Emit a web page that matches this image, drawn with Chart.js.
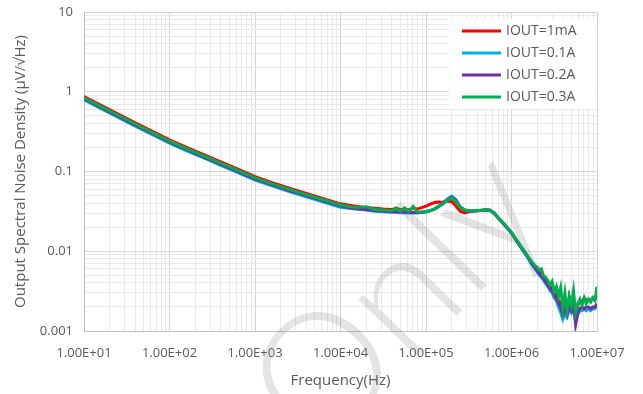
<!DOCTYPE html>
<html>
<head>
<meta charset="utf-8">
<script src="https://cdn.jsdelivr.net/npm/chart.js@4.4.1/dist/chart.umd.min.js"></script>
<style>
  html, body { margin: 0; padding: 0; background: #fff; }
  #wrap { width: 643px; height: 394px; }
</style>
</head>
<body>
<div id="wrap"><canvas id="noiseChart" width="643" height="394"></canvas></div>
<script>
// frequency points (Hz), shared by all four curves
const freqs = [
    10, 15.85, 25.12, 39.81, 63.1, 100, 158.5, 251.2, 398.1, 631, 1000, 1585, 2512, 3981, 6310, 10000,
    12589, 15849, 19953, 25119, 31623, 39811, 44668, 50119, 56234, 63096, 70795, 79433, 89125, 100000,
    112202, 125893, 141254, 158489, 177828, 199526, 223872, 251189, 281838, 316228, 398107, 501187,
    562341, 630957, 707946, 794328, 1000000, 1258925,
    1584893, 1678804, 1778279, 1883649, 1995262, 2113489, 2238721, 2371374, 2511886, 2660725, 2818383,
    2985383, 3162278, 3349654, 3548134, 3758374, 3981072, 4216965, 4466836, 4731513, 5011872, 5308844,
    5623413, 5956621, 6309573, 6683439, 7079458, 7498942, 7943282, 8413951, 8912509, 9440609, 10000000
];

const iout1mA = [
    0.87, 0.675, 0.525, 0.408, 0.319, 0.249, 0.201, 0.163, 0.132, 0.107, 0.086, 0.0725, 0.0617, 0.0531, 0.0457, 0.0393,
    0.0378, 0.0364, 0.0352, 0.0345, 0.0338, 0.0333, 0.0348, 0.0332, 0.0338, 0.0330, 0.0345, 0.0338, 0.0352, 0.0368,
    0.0390, 0.0408, 0.0415, 0.0412, 0.0425, 0.0420, 0.0370, 0.0318, 0.0303, 0.0312, 0.0322, 0.0330,
    0.0328, 0.0296, 0.0258, 0.0225, 0.0170, 0.0117,
    0.0083, 0.0075, 0.0068, 0.0064, 0.0059, 0.0055, 0.0051, 0.0047, 0.0044, 0.0040, 0.0036,
    0.0034, 0.0030, 0.0029, 0.0024, 0.0023, 0.0018, 0.0022, 0.0017, 0.0026, 0.0019, 0.0024,
    0.0015, 0.0021, 0.0024, 0.0023, 0.0026, 0.0024, 0.0025, 0.0024, 0.0026, 0.0025, 0.0026
];

const iout01A = [
    0.79, 0.613, 0.477, 0.370, 0.290, 0.226, 0.182, 0.148, 0.119, 0.097, 0.078, 0.066, 0.056, 0.0482, 0.0415, 0.0357,
    0.0345, 0.0335, 0.0328, 0.0318, 0.0312, 0.0308, 0.0306, 0.0304, 0.0303, 0.0302, 0.0302, 0.0302, 0.0305, 0.0310,
    0.0322, 0.0340, 0.0368, 0.0405, 0.0452, 0.0490, 0.0445, 0.0360, 0.0330, 0.0320, 0.0322, 0.0328,
    0.0325, 0.0296, 0.0258, 0.0225, 0.0168, 0.0115,
    0.0080, 0.0072, 0.0065, 0.0060, 0.0055, 0.0050, 0.0047, 0.0043, 0.0039, 0.0036, 0.0032,
    0.0030, 0.0026, 0.0024, 0.0020, 0.0017, 0.0014, 0.0016, 0.0015, 0.0019, 0.0017, 0.0020,
    0.0013, 0.0016, 0.0018, 0.0018, 0.0019, 0.0018, 0.0019, 0.0018, 0.0019, 0.0019, 0.0021
];

const iout02A = [
    0.815, 0.632, 0.492, 0.382, 0.299, 0.233, 0.188, 0.152, 0.123, 0.100, 0.0805, 0.068, 0.0578, 0.0498, 0.0429, 0.0369,
    0.0352, 0.0342, 0.0334, 0.0324, 0.0318, 0.0313, 0.0312, 0.0310, 0.0309, 0.0307, 0.0307, 0.0307, 0.0309, 0.0313,
    0.0323, 0.0338, 0.0365, 0.0400, 0.0442, 0.0475, 0.0432, 0.0358, 0.0330, 0.0320, 0.0323, 0.0328,
    0.0326, 0.0297, 0.0260, 0.0227, 0.0170, 0.0117,
    0.0082, 0.0074, 0.0067, 0.0062, 0.0057, 0.0052, 0.0049, 0.0045, 0.0041, 0.0038, 0.0034,
    0.0032, 0.0028, 0.0026, 0.0022, 0.0020, 0.0016, 0.0019, 0.0016, 0.0021, 0.0018, 0.0022,
    0.0012, 0.0017, 0.0019, 0.0020, 0.0019, 0.0020, 0.0020, 0.0019, 0.0020, 0.0020, 0.0022
];

const iout03A = [
    0.84, 0.652, 0.507, 0.394, 0.308, 0.240, 0.194, 0.157, 0.127, 0.103, 0.083, 0.070, 0.0596, 0.0513, 0.0442, 0.038,
    0.0365, 0.0353, 0.0362, 0.0333, 0.0328, 0.0322, 0.0345, 0.0318, 0.0350, 0.0312, 0.0365, 0.0310, 0.0312, 0.0316,
    0.0325, 0.0340, 0.0365, 0.0390, 0.0435, 0.0465, 0.0420, 0.0355, 0.0330, 0.0322, 0.0325, 0.0330,
    0.0328, 0.0300, 0.0262, 0.0230, 0.0174, 0.0120,
    0.0084, 0.0077, 0.0071, 0.0066, 0.0063, 0.0058, 0.0060, 0.0049, 0.0047, 0.0043, 0.0038,
    0.0042, 0.0031, 0.0036, 0.0027, 0.0035, 0.0019, 0.0030, 0.0018, 0.0027, 0.0021, 0.0032,
    0.0017, 0.0022, 0.0025, 0.0021, 0.0026, 0.0022, 0.0025, 0.0023, 0.0026, 0.0024, 0.0036
];

const seriesNames = ['IOUT=1mA', 'IOUT=0.1A', 'IOUT=0.2A', 'IOUT=0.3A'];
const seriesColors = ['#ff0000', '#00b0f0', '#7030a0', '#00b050'];
const xTickLabels = ['1.00E+01', '1.00E+02', '1.00E+03', '1.00E+04', '1.00E+05', '1.00E+06', '1.00E+07'];
const yTickLabels = ['0.001', '0.01', '0.1', '1', '10'];

const textColor = '#595959';
const majorGrid = '#d4d4d4';
const minorGrid = '#e9e9e9';

function isMajor(v) {
    const l = Math.log10(v);
    return Math.abs(l - Math.round(l)) < 1e-6;
}

// 1..9 x 10^e for every decade between min and max
function decadeTicks(minExp, maxExp) {
    const ticks = [];
    for (let e = minExp; e < maxExp; e++) {
        for (let m = 1; m <= 9; m++) {
            ticks.push({ value: Number((m * Math.pow(10, e)).toPrecision(3)) });
        }
    }
    ticks.push({ value: Math.pow(10, maxExp) });
    return ticks;
}

function toPoints(values) {
    return values.map((v, i) => ({ x: freqs[i], y: v }));
}

const legendBox = {
    id: 'legendBox',
    afterDraw(chart) {
        const ctx = chart.ctx;
        ctx.save();
        ctx.fillStyle = '#ffffff';
        ctx.fillRect(449, 19, 147, 90);
        ctx.font = '14px "Open Sans", sans-serif';
        ctx.textBaseline = 'middle';
        seriesNames.forEach((name, i) => {
            const y = 31 + i * 22;
            ctx.strokeStyle = seriesColors[i];
            ctx.lineWidth = 3;
            ctx.beginPath();
            ctx.moveTo(462, y);
            ctx.lineTo(501, y);
            ctx.stroke();
            ctx.fillStyle = textColor;
            ctx.fillText(name, 506, y);
        });
        ctx.restore();
    }
};

const watermark = {
    id: 'watermark',
    beforeDatasetsDraw(chart) {
        const ctx = chart.ctx;
        ctx.save();
        ctx.translate(398, 300);
        ctx.rotate(-0.8);
        ctx.font = '300 165px Lato, sans-serif';
        ctx.fillStyle = 'rgba(120,120,120,0.2)';
        ctx.textAlign = 'center';
        ctx.textBaseline = 'middle';
        ctx.fillText('Only', 0, 0);
        ctx.restore();
    }
};

const datasets = [iout1mA, iout01A, iout02A, iout03A].map((vals, i) => ({
    label: seriesNames[i],
    data: toPoints(vals),
    borderColor: seriesColors[i],
    backgroundColor: seriesColors[i],
    borderWidth: 3,
    pointRadius: 0,
    tension: 0,
    order: 3 - i
}));

new Chart(document.getElementById('noiseChart'), {
    type: 'line',
    data: { datasets: datasets },
    options: {
        responsive: false,
        animation: false,
        devicePixelRatio: 1,
        layout: { padding: { top: 12, right: 46, left: 0, bottom: 0 } },
        plugins: {
            legend: { display: false },
            tooltip: { enabled: false }
        },
        scales: {
            x: {
                type: 'logarithmic',
                min: 10,
                max: 1e7,
                afterBuildTicks: scale => { scale.ticks = decadeTicks(1, 7); },
                afterFit: scale => { scale.height = 63; },
                ticks: {
                    autoSkip: false,
                    maxRotation: 0,
                    padding: 14,
                    color: textColor,
                    font: { family: '"Open Sans", sans-serif', size: 13 },
                    callback: value => isMajor(value) ? xTickLabels[Math.round(Math.log10(value)) - 1] : ''
                },
                grid: {
                    drawTicks: false,
                    lineWidth: 1,
                    color: c => (c.tick && isMajor(c.tick.value)) ? majorGrid : minorGrid
                },
                border: { color: '#bfbfbf', width: 1 },
                title: {
                    display: true,
                    text: 'Frequency(Hz)',
                    color: textColor,
                    font: { family: '"Open Sans", sans-serif', size: 15 },
                    padding: { top: 0, bottom: 4 }
                }
            },
            y: {
                type: 'logarithmic',
                min: 0.001,
                max: 10,
                afterBuildTicks: scale => { scale.ticks = decadeTicks(-3, 1); },
                afterFit: scale => {
                    scale.width = 84;
                    scale.paddingTop = 0;
                    scale.paddingBottom = 0;
                },
                ticks: {
                    autoSkip: false,
                    padding: 11,
                    color: textColor,
                    font: { family: '"Open Sans", sans-serif', size: 13 },
                    callback: value => isMajor(value) ? yTickLabels[Math.round(Math.log10(value)) + 3] : ''
                },
                grid: {
                    drawTicks: false,
                    lineWidth: 1,
                    color: c => (c.tick && isMajor(c.tick.value)) ? majorGrid : minorGrid
                },
                border: { color: '#bfbfbf', width: 1 },
                title: {
                    display: true,
                    text: 'Output Spectral Noise Density (µV/√Hz)',
                    color: textColor,
                    font: { family: '"Open Sans", sans-serif', size: 15 },
                    padding: { top: 12, bottom: 0 }
                }
            }
        }
    },
    plugins: [watermark, legendBox]
});
</script>
</body>
</html>
